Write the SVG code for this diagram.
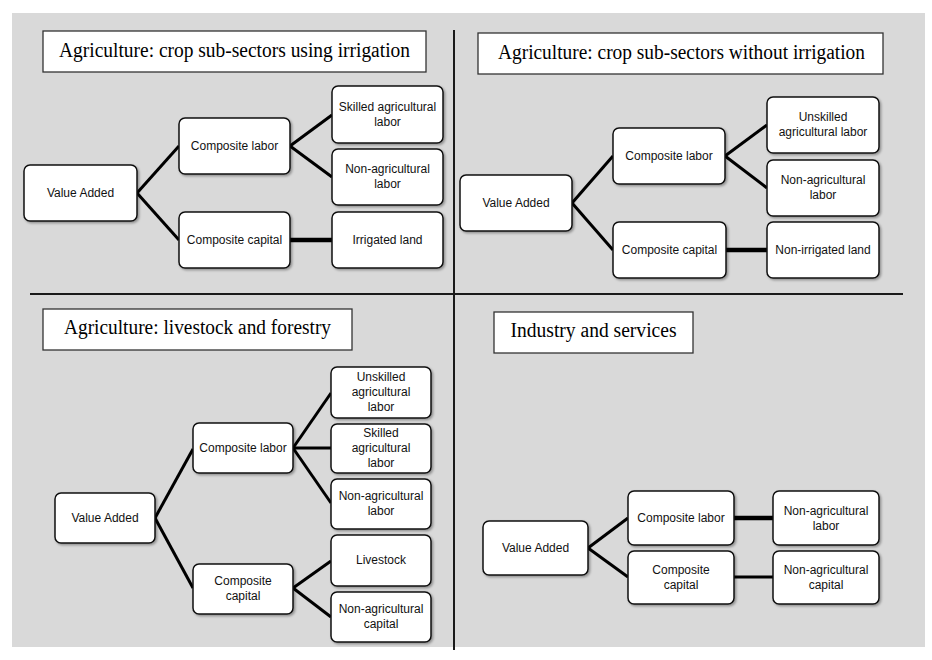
<svg xmlns="http://www.w3.org/2000/svg" width="932" height="660" viewBox="0 0 932 660">
<defs>
<filter id="sh" x="-10%" y="-10%" width="130%" height="130%">
<feDropShadow dx="1.5" dy="1.5" stdDeviation="1" flood-color="#000" flood-opacity="0.35"/>
</filter>
</defs>
<style>
.bg{fill:#d9d9d9}
.div{stroke:#1a1a1a;stroke-width:2;fill:none}
.title rect{fill:#fff;stroke:#333;stroke-width:1.3}
.title text{font-family:"Liberation Serif","Times New Roman",serif;font-size:20px;fill:#000;text-anchor:middle}
.node rect{fill:#fff;stroke:#111;stroke-width:1.5;filter:url(#sh)}
.node text{font-family:"Liberation Sans",Arial,sans-serif;font-size:12px;fill:#111;text-anchor:middle}
.c{stroke:#000;stroke-width:3;fill:none;stroke-linecap:butt}
.ct{stroke:#000;stroke-width:4.5;fill:none}
</style>
<rect class="bg" x="12" y="13" width="913" height="634"/>
<g id="dividers">
<line class="div" x1="454" y1="30" x2="454" y2="650"/>
<line class="div" x1="30" y1="294" x2="903" y2="294"/>
</g>

<!-- Panel 1 -->
<g id="title1" class="title"><rect x="43" y="31" width="383" height="41"/><text x="234.5" y="57" textLength="351" lengthAdjust="spacingAndGlyphs">Agriculture: crop sub-sectors using irrigation</text></g>
<g id="connectors">
<line class="c" x1="137" y1="193" x2="179" y2="146"/>
<line class="c" x1="137" y1="193" x2="179" y2="240"/>
<line class="c" x1="290" y1="146" x2="332" y2="115"/>
<line class="c" x1="290" y1="146" x2="332" y2="177"/>
<line class="ct" x1="290" y1="240" x2="332" y2="240"/>

<line class="c" x1="572" y1="203" x2="613" y2="156"/>
<line class="c" x1="572" y1="203" x2="613" y2="250"/>
<line class="c" x1="725" y1="156" x2="767" y2="125"/>
<line class="c" x1="725" y1="156" x2="767" y2="188"/>
<line class="ct" x1="726" y1="250" x2="767" y2="250"/>

<line class="c" x1="155" y1="518" x2="193" y2="449"/>
<line class="c" x1="155" y1="518" x2="193" y2="588"/>
<line class="c" x1="293" y1="448" x2="331" y2="393"/>
<line class="c" x1="293" y1="448" x2="331" y2="448"/>
<line class="c" x1="293" y1="448" x2="331" y2="503"/>
<line class="c" x1="293" y1="588" x2="331" y2="561"/>
<line class="c" x1="293" y1="588" x2="331" y2="617"/>

<line class="c" x1="588" y1="548" x2="628" y2="518"/>
<line class="c" x1="588" y1="548" x2="628" y2="577"/>
<line class="ct" x1="734" y1="518" x2="773" y2="518"/>
<line class="c" x1="734" y1="577" x2="773" y2="577"/>
</g>

<g id="p1-va" class="node"><rect x="24" y="165" width="113" height="56" rx="6"/><text x="80.5" y="197">Value Added</text></g>
<g id="p1-cl" class="node"><rect x="179" y="118" width="111" height="56" rx="6"/><text x="234.5" y="150">Composite labor</text></g>
<g id="p1-cc" class="node"><rect x="179" y="212" width="111" height="56" rx="6"/><text x="234.5" y="244">Composite capital</text></g>
<g id="p1-sal" class="node"><rect x="332" y="86" width="111" height="57" rx="6"/><text x="387.5" y="111">Skilled agricultural</text><text x="387.5" y="126">labor</text></g>
<g id="p1-nal" class="node"><rect x="332" y="149" width="111" height="56" rx="6"/><text x="387.5" y="173">Non-agricultural</text><text x="387.5" y="188">labor</text></g>
<g id="p1-il" class="node"><rect x="332" y="212" width="111" height="56" rx="6"/><text x="387.5" y="244">Irrigated land</text></g>

<!-- Panel 2 -->
<g id="title2" class="title"><rect x="478" y="33" width="405" height="41"/><text x="681.5" y="59" textLength="367" lengthAdjust="spacingAndGlyphs">Agriculture: crop sub-sectors without irrigation</text></g>
<g id="p2-va" class="node"><rect x="460" y="175" width="112" height="56" rx="6"/><text x="516" y="207">Value Added</text></g>
<g id="p2-cl" class="node"><rect x="613" y="128" width="112" height="56" rx="6"/><text x="669" y="160">Composite labor</text></g>
<g id="p2-cc" class="node"><rect x="613" y="222" width="113" height="56" rx="6"/><text x="669.5" y="254">Composite capital</text></g>
<g id="p2-ual" class="node"><rect x="767" y="97" width="112" height="56" rx="6"/><text x="823" y="121">Unskilled</text><text x="823" y="136">agricultural labor</text></g>
<g id="p2-nal" class="node"><rect x="767" y="160" width="112" height="56" rx="6"/><text x="823" y="184">Non-agricultural</text><text x="823" y="199">labor</text></g>
<g id="p2-nil" class="node"><rect x="767" y="222" width="112" height="56" rx="6"/><text x="823" y="254">Non-irrigated land</text></g>

<!-- Panel 3 -->
<g id="title3" class="title"><rect x="43" y="309" width="309" height="41"/><text x="197.5" y="334" textLength="267" lengthAdjust="spacingAndGlyphs">Agriculture: livestock and forestry</text></g>
<g id="p3-va" class="node"><rect x="55" y="493" width="100" height="50" rx="6"/><text x="105" y="522">Value Added</text></g>
<g id="p3-cl" class="node"><rect x="193" y="423" width="100" height="50" rx="6"/><text x="243" y="452">Composite labor</text></g>
<g id="p3-cc" class="node"><rect x="193" y="564" width="100" height="50" rx="6"/><text x="243" y="585">Composite</text><text x="243" y="600">capital</text></g>
<g id="p3-ual" class="node"><rect x="331" y="367" width="100" height="51" rx="6"/><text x="381" y="381">Unskilled</text><text x="381" y="396">agricultural</text><text x="381" y="411">labor</text></g>
<g id="p3-sal" class="node"><rect x="331" y="424" width="100" height="49" rx="6"/><text x="381" y="437">Skilled</text><text x="381" y="452">agricultural</text><text x="381" y="467">labor</text></g>
<g id="p3-nal" class="node"><rect x="331" y="479" width="100" height="50" rx="6"/><text x="381" y="500">Non-agricultural</text><text x="381" y="515">labor</text></g>
<g id="p3-ls" class="node"><rect x="331" y="535" width="100" height="51" rx="6"/><text x="381" y="564">Livestock</text></g>
<g id="p3-nac" class="node"><rect x="331" y="592" width="100" height="50" rx="6"/><text x="381" y="613">Non-agricultural</text><text x="381" y="628">capital</text></g>

<!-- Panel 4 -->
<g id="title4" class="title"><rect x="494" y="312" width="199" height="41"/><text x="593.5" y="337" textLength="166" lengthAdjust="spacingAndGlyphs">Industry and services</text></g>
<g id="p4-va" class="node"><rect x="483" y="521" width="105" height="54" rx="6"/><text x="535.5" y="552">Value Added</text></g>
<g id="p4-cl" class="node"><rect x="628" y="491" width="106" height="54" rx="6"/><text x="681" y="522">Composite labor</text></g>
<g id="p4-cc" class="node"><rect x="628" y="551" width="106" height="53" rx="6"/><text x="681" y="574">Composite</text><text x="681" y="589">capital</text></g>
<g id="p4-nal" class="node"><rect x="773" y="491" width="106" height="54" rx="6"/><text x="826" y="515">Non-agricultural</text><text x="826" y="530">labor</text></g>
<g id="p4-nac" class="node"><rect x="773" y="551" width="106" height="53" rx="6"/><text x="826" y="574">Non-agricultural</text><text x="826" y="589">capital</text></g>
</svg>
